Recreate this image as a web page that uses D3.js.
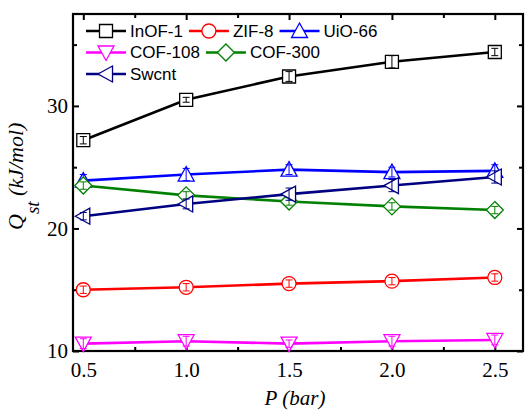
<!DOCTYPE html>
<html>
<head>
<meta charset="utf-8">
<script src="https://cdn.jsdelivr.net/npm/d3@7"></script>
<style>
  body { margin: 0; background: #fff; }
  svg { display: block; }
  .tick-label { font-family: 'Liberation Serif', 'Times New Roman', serif; font-size: 21px; }
  .legend text { font-family: 'Liberation Sans', Arial, sans-serif; font-size: 17px; }
</style>
</head>
<body>
<div class="graph"></div>
<script>
const width = 526;
const height = 414;

// data
const pressures = [0.5, 1.0, 1.5, 2.0, 2.5];
const names = ['InOF-1', 'ZIF-8', 'UiO-66', 'COF-108', 'COF-300', 'Swcnt'];
const inof1 = [27.2, 30.5, 32.4, 33.6, 34.4];
const zif8 = [15.0, 15.2, 15.5, 15.7, 16.0];
const uio66 = [23.9, 24.4, 24.8, 24.6, 24.7];
const cof108 = [10.6, 10.8, 10.6, 10.8, 10.9];
const cof300 = [23.5, 22.7, 22.2, 21.8, 21.5];
const swcnt = [21.0, 22.0, 22.8, 23.5, 24.2];
const inof1Err = [0.3, 0.2, 0.4, 0.5, 0.3];
const zif8Err = [0.3, 0.3, 0.3, 0.3, 0.3];
const uio66Err = [0.5, 0.5, 0.4, 0.4, 0.5];
const cof108Err = [0.4, 0.4, 0.3, 0.4, 0.4];
const cof300Err = [0.3, 0.3, 0.3, 0.3, 0.3];
const swcntErr = [0.3, 0.4, 0.5, 0.5, 0.5];
const xTicks = [0.5, 1.0, 1.5, 2.0, 2.5];
const yTicks = [10, 20, 30];

const color = {
  'InOF-1': '#000000',
  'ZIF-8': '#ff0000',
  'UiO-66': '#0000ff',
  'COF-108': '#ff00ff',
  'COF-300': '#008000',
  'Swcnt': '#000080',
};
const symbol = {
  'InOF-1': 'square',
  'ZIF-8': 'circle',
  'UiO-66': 'up',
  'COF-108': 'down',
  'COF-300': 'diamond',
  'Swcnt': 'left',
};

const series = [
  { name: 'InOF-1', values: inof1, errors: inof1Err },
  { name: 'ZIF-8', values: zif8, errors: zif8Err },
  { name: 'UiO-66', values: uio66, errors: uio66Err },
  { name: 'COF-108', values: cof108, errors: cof108Err },
  { name: 'COF-300', values: cof300, errors: cof300Err },
  { name: 'Swcnt', values: swcnt, errors: swcntErr },
];

const margin = { top: 14, right: 3, bottom: 63, left: 73 };
const plotW = width - margin.left - margin.right;
const plotH = height - margin.top - margin.bottom;

const x = d3.scaleLinear().domain([0.45, 2.637]).range([0, plotW]);
const y = d3.scaleLinear().domain([10, 37.5]).range([plotH, 0]);

const svg = d3.select('.graph')
  .append('svg')
    .attr('width', width)
    .attr('height', height);

const g = svg.append('g')
  .attr('transform', `translate(${margin.left}, ${margin.top})`);

// axes with inward ticks
const xMinor = d3.range(0.75, 2.6, 0.5);
const yMinor = [15, 25, 35];

function inTicks(sel, axisGen) {
  sel.call(axisGen);
  sel.select('.domain').remove();
  sel.selectAll('line').attr('stroke', '#000').attr('stroke-width', 2);
}

g.append('g').attr('transform', `translate(0, ${plotH})`)
  .call(s => inTicks(s, d3.axisBottom(x).tickValues(xTicks).tickSizeInner(-6).tickSizeOuter(0).tickPadding(11).tickFormat(d3.format('.1f'))))
  .selectAll('text').attr('class', 'tick-label').attr('fill', '#000');
g.append('g').attr('transform', `translate(0, ${plotH})`)
  .call(s => inTicks(s, d3.axisBottom(x).tickValues(xMinor).tickSizeInner(-4).tickSizeOuter(0).tickFormat('')));
g.append('g')
  .call(s => inTicks(s, d3.axisTop(x).tickValues(xTicks).tickSizeInner(-6).tickSizeOuter(0).tickFormat('')));
g.append('g')
  .call(s => inTicks(s, d3.axisTop(x).tickValues(xMinor).tickSizeInner(-4).tickSizeOuter(0).tickFormat('')));

g.append('g')
  .call(s => inTicks(s, d3.axisLeft(y).tickValues(yTicks).tickSizeInner(-6).tickSizeOuter(0).tickPadding(5)))
  .selectAll('text').attr('class', 'tick-label').attr('fill', '#000');
g.append('g')
  .call(s => inTicks(s, d3.axisLeft(y).tickValues(yMinor).tickSizeInner(-4).tickSizeOuter(0).tickFormat('')));
g.append('g').attr('transform', `translate(${plotW}, 0)`)
  .call(s => inTicks(s, d3.axisRight(y).tickValues(yTicks).tickSizeInner(-6).tickSizeOuter(0).tickFormat('')));
g.append('g').attr('transform', `translate(${plotW}, 0)`)
  .call(s => inTicks(s, d3.axisRight(y).tickValues(yMinor).tickSizeInner(-4).tickSizeOuter(0).tickFormat('')));

// frame
g.append('rect')
  .attr('width', plotW)
  .attr('height', plotH)
  .attr('fill', 'none')
  .attr('stroke', '#000')
  .attr('stroke-width', 2.2);

// markers
function markerPath(type) {
  const s = 6.5;
  switch (type) {
    case 'square': return `M${-s},${-s}H${s}V${s}H${-s}Z`;
    case 'circle': return d3.symbol(d3.symbolCircle, Math.PI * 7 * 7)();
    case 'up': return `M0,${-s - 1.5}L${s + 1.5},${s}L${-s - 1.5},${s}Z`;
    case 'down': return `M0,${s + 1.5}L${s + 1.5},${-s}L${-s - 1.5},${-s}Z`;
    case 'diamond': return `M0,${-s - 2}L${s + 2},0L0,${s + 2}L${-s - 2},0Z`;
    case 'left': return `M${-s - 1.5},0L${s},${-s - 1.5}L${s},${s + 1.5}Z`;
  }
}

const line = d3.line()
  .x((d, i) => x(pressures[i]))
  .y(d => y(d));

series.forEach(s => {
  const c = color[s.name];
  const sg = g.append('g').attr('class', 'series');
  sg.append('path')
    .attr('d', line(s.values))
    .attr('fill', 'none')
    .attr('stroke', c)
    .attr('stroke-width', 2.6);

  const pts = sg.selectAll('.pt')
    .data(s.values.map((v, i) => ({ p: pressures[i], v, e: s.errors[i] })))
    .enter().append('g')
      .attr('class', 'pt')
      .attr('transform', d => `translate(${x(d.p)}, ${y(d.v)})`);

  pts.append('path')
    .attr('d', markerPath(symbol[s.name]))
    .attr('fill', '#fff')
    .attr('stroke', c)
    .attr('stroke-width', 1.3);

  pts.append('path')
    .attr('d', d => {
      const h = y(d.v - d.e) - y(d.v);
      return `M0,${-h}V${h}M-3.5,${-h}H3.5M-3.5,${h}H3.5`;
    })
    .attr('fill', 'none')
    .attr('stroke', c)
    .attr('stroke-width', 1);
});

// legend
const legend = svg.append('g').attr('class', 'legend');
const rows = [['InOF-1', 'ZIF-8', 'UiO-66'], ['COF-108', 'COF-300'], ['Swcnt']];
rows.forEach((row, r) => {
  let lx = 86;
  const ly = 31 + r * 21.5;
  row.forEach(name => {
    const item = legend.append('g').attr('transform', `translate(${lx}, ${ly})`);
    item.append('line')
      .attr('x1', 0).attr('x2', 40)
      .attr('stroke', color[name])
      .attr('stroke-width', 2.6);
    item.append('path')
      .attr('transform', 'translate(20, 0)')
      .attr('d', markerPath(symbol[name]))
      .attr('fill', '#fff')
      .attr('stroke', color[name])
      .attr('stroke-width', 1.3);
    const t = item.append('text')
      .attr('x', 44)
      .attr('dy', '0.35em')
      .attr('fill', '#000')
      .text(name);
    lx += 44 + t.node().getComputedTextLength() + 6;
  });
});

// axis titles
svg.append('text')
  .attr('x', margin.left + plotW / 2 - 3)
  .attr('y', 405)
  .attr('text-anchor', 'middle')
  .style('font-family', "'Liberation Serif', 'Times New Roman', serif")
  .style('font-size', '21px')
  .style('font-style', 'italic')
  .text('P (bar)');

const yTitle = svg.append('text')
  .attr('transform', 'translate(23, 230) rotate(-90)')
  .style('font-family', "'Liberation Serif', 'Times New Roman', serif")
  .style('font-size', '22px')
  .style('font-style', 'italic')
  .attr('fill', '#000');
yTitle.append('tspan').text('Q');
yTitle.append('tspan').attr('dy', 16).style('font-size', '19px').text('st');
yTitle.append('tspan').attr('dy', -16).text(' (kJ/mol)');
</script>
</body>
</html>
